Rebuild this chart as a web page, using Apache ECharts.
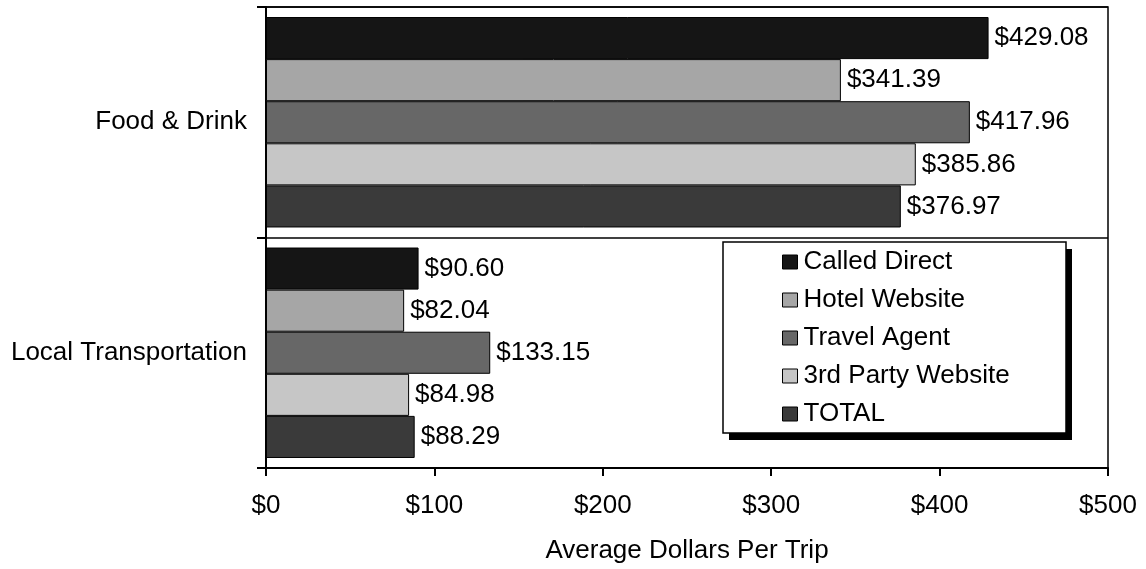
<!DOCTYPE html>
<html>
<head>
<meta charset="utf-8">
<style>
  html, body { margin: 0; padding: 0; background: #fff; }
  #chart { width: 1146px; height: 569px; }
</style>
<script src="https://cdn.jsdelivr.net/npm/echarts@6/dist/echarts.min.js"></script>
</head>
<body>
<div id="chart"></div>
<script>
// Spending categories (top to bottom)
const categories = ['Food & Drink', 'Local Transportation'];

// Booking channels and their average spend per trip
const seriesNames = ['Called Direct', 'Hotel Website', 'Travel Agent', '3rd Party Website', 'TOTAL'];
const calledDirect = [429.08, 90.60];
const hotelWebsite = [341.39, 82.04];
const travelAgent = [417.96, 133.15];
const thirdParty = [385.86, 84.98];
const total = [376.97, 88.29];

const xTicks = [0, 100, 200, 300, 400, 500];

const seriesValues = [calledDirect, hotelWebsite, travelAgent, thirdParty, total];
const seriesColors = ['#151515', '#a6a6a6', '#676767', '#c6c6c6', '#3a3a3a'];

const FONT = 'Liberation Sans, Arial, sans-serif';
const FS = 26;

const chart = echarts.init(document.getElementById('chart'), null, { renderer: 'canvas' });

const series = seriesNames.map((name, i) => ({
  name: name,
  type: 'bar',
  data: seriesValues[i],
  barGap: '0%',
  barCategoryGap: '8.7%',
  itemStyle: { color: seriesColors[i], borderColor: '#000', borderWidth: 1 },
  label: {
    show: true,
    position: 'right',
    distance: 6,
    color: '#000',
    fontFamily: FONT,
    fontSize: FS,
    formatter: p => '$' + p.value.toFixed(2)
  }
}));

chart.setOption({
  animation: false,
  backgroundColor: '#fff',
  textStyle: { fontFamily: FONT },
  grid: {
    left: 266, right: 38, top: 7, bottom: 101,
    show: true, borderColor: '#000', borderWidth: 1.5, backgroundColor: 'transparent'
  },
  xAxis: {
    type: 'value',
    min: xTicks[0],
    max: xTicks[xTicks.length - 1],
    interval: xTicks[1] - xTicks[0],
    name: 'Average Dollars Per Trip',
    nameLocation: 'middle',
    nameGap: 70,
    nameTextStyle: { color: '#000', fontSize: FS, fontFamily: FONT },
    axisLine: { show: true, lineStyle: { color: '#000', width: 2 } },
    axisTick: { show: true, length: 8, lineStyle: { color: '#000', width: 2 } },
    axisLabel: { color: '#000', fontSize: FS, fontFamily: FONT, margin: 25, formatter: v => '$' + v },
    splitLine: { show: false }
  },
  yAxis: {
    type: 'category',
    data: categories,
    inverse: true,
    axisLine: { show: true, lineStyle: { color: '#000', width: 2 } },
    axisTick: { show: true, length: 9, lineStyle: { color: '#000', width: 2 } },
    axisLabel: { color: '#000', fontSize: FS, fontFamily: FONT, margin: 19 },
    splitLine: { show: true, lineStyle: { color: '#000', width: 1.5 } }
  },
  legend: {
    orient: 'vertical',
    left: 782,
    top: 249,
    padding: 0,
    icon: 'rect',
    itemWidth: 15,
    itemHeight: 14,
    itemGap: 12,
    data: seriesNames,
    itemStyle: { borderColor: '#000', borderWidth: 1 },
    textStyle: { color: '#000', fontSize: FS, fontFamily: FONT, lineHeight: 26, padding: [0, 0, 0, 1] }
  },
  graphic: [
    {
      type: 'rect', z: 1,
      shape: { x: 729, y: 249, width: 343, height: 191 },
      style: { fill: '#000' }
    },
    {
      type: 'rect', z: 2,
      shape: { x: 723, y: 242, width: 343, height: 191 },
      style: { fill: '#fff', stroke: '#000', lineWidth: 1.5 }
    }
  ],
  series: series
});
</script>
</body>
</html>
